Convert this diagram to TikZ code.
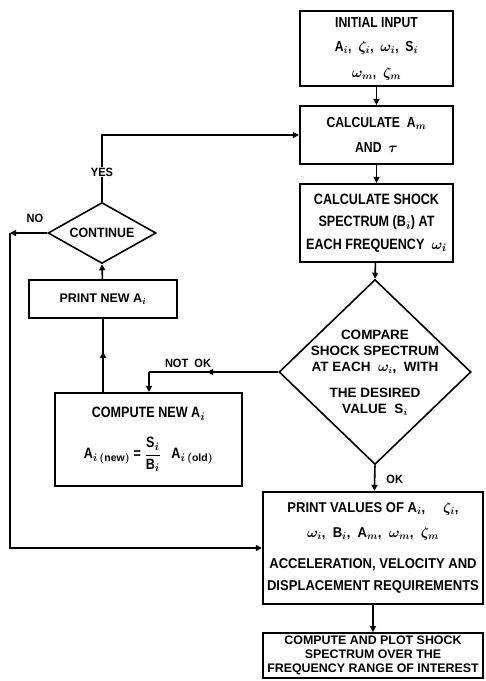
\documentclass[tikz,border=0pt]{standalone}
\usepackage{fontspec}
\setmainfont{Liberation Sans}
\newfontfamily\fA[FakeStretch=0.84]{Liberation Sans}
\newfontfamily\fB[FakeStretch=0.92]{Liberation Sans}
\newfontfamily\fC[FakeStretch=1.0]{Liberation Sans}
\usetikzlibrary{shapes.geometric,arrows.meta,decorations.markings}
\begin{document}
\begin{tikzpicture}[x=1pt,y=-1pt,
  box/.style={draw,line width=2.2pt,inner sep=0pt,align=center},
  dia/.style={draw,diamond,line width=1.6pt,inner sep=0pt},
  txt/.style={align=center,inner sep=0pt},
  lbl/.style={inner sep=1pt,font=\fB\bfseries\boldmath\fontsize{12}{13}\selectfont},
  tip/.style={-{Triangle[length=6pt,width=6pt]}},
  conn/.style={line width=1.6pt,tip},
  midarr/.style={line width=1.6pt,postaction={decorate},decoration={markings,mark=at position 0.55 with {\arrow{Triangle[length=6pt,width=6pt]}}}}
]
\useasboundingbox (0,0) rectangle (486,681);

% right column
\node[box,minimum width=153pt,minimum height=75pt,font=\fA\bfseries\boldmath\fontsize{14.5}{24}\selectfont] (init) at (376.5,48.5)
  {INITIAL INPUT\\ A$_i$, \ $\zeta_i$, \ $\omega_i$, \ S$_i$\\[2pt] $\omega_m$, \ $\zeta_m$};
\node[box,minimum width=153pt,minimum height=58pt,font=\fA\bfseries\boldmath\fontsize{14.5}{25}\selectfont] (calc) at (376.5,135)
  {CALCULATE \ A$_m$\\ AND \ $\tau$};
\node[box,minimum width=153pt,minimum height=78pt,font=\fA\bfseries\boldmath\fontsize{15}{22.5}\selectfont] (spec) at (376.5,223)
  {CALCULATE SHOCK\\ SPECTRUM (B$_i$) AT\\ EACH FREQUENCY \ $\omega_i$};
\node[dia,minimum width=192pt,minimum height=185pt] (cmp) at (375,372) {};
\node[txt,font=\fC\bfseries\boldmath\fontsize{13.5}{16}\selectfont] (cmptext) at (375,373)
  {COMPARE\\ SHOCK SPECTRUM\\ AT EACH \ $\omega_i$, \ WITH\\[10pt] THE DESIRED\\ VALUE \ S$_i$};
\node[box,minimum width=220pt,minimum height=112pt,line width=2.4pt,font=\fB\bfseries\boldmath\fontsize{14.2}{25}\selectfont] (pv) at (373,548)
  {PRINT VALUES OF A$_i$, \quad $\zeta_i$,\\ $\omega_i$, \ B$_i$, \ A$_m$, \ $\omega_m$, \ $\zeta_m$\\[6pt] ACCELERATION, VELOCITY AND\\[-3pt] DISPLACEMENT REQUIREMENTS};
\node[box,minimum width=220pt,minimum height=45pt,line width=1.8pt,font=\fC\bfseries\fontsize{12.4}{14}\selectfont] (plot) at (373,655.5)
  {COMPUTE AND PLOT SHOCK\\ SPECTRUM OVER THE\\ FREQUENCY RANGE OF INTEREST};

% left column
\node[dia,minimum width=108pt,minimum height=61pt] (cont) at (102,233) {};
\node[txt,font=\fB\bfseries\fontsize{13.5}{14}\selectfont] (conttext) at (102,233) {CONTINUE};
\node[box,minimum width=148pt,minimum height=38pt,line width=1.8pt,font=\fC\bfseries\boldmath\fontsize{12.5}{14}\selectfont] (pnew) at (103,299) {PRINT NEW A$_i$};
\node[box,minimum width=187pt,minimum height=93pt,line width=2.2pt,font=\fA\bfseries\boldmath\fontsize{15}{15}\selectfont] (cnew) at (148.5,439.5)
  {COMPUTE NEW A$_i$\\[16pt] A$_{i\,(\mathrm{new})}$ = $\displaystyle\frac{\mbox{S}_i}{\mbox{B}_i}$ \ \ A$_{i\,(\mathrm{old})}$};

\coordinate (yes) at (102,135);
\coordinate (no) at (10,233);
\coordinate (notok) at (149,372);

% connectors
\draw[conn] (init) -- (calc);
\draw[conn] (calc) -- (spec);
\draw[conn] (spec) -- (cmp.north);
\draw[conn] (cmp.south) -- node[lbl,right=10pt,pos=0.55]{OK} (pv);
\draw[conn] (pv) -- (plot);
\draw[midarr] (cmp.west) -- (notok);
\draw[conn] (notok) -- (notok |- cnew.north);
\node[lbl] (notoklbl) at (188,363) {NOT \ OK};
\draw[midarr] (cnew.north -| pnew.south) -- (pnew.south);
\draw[conn] (pnew) -- (cont.south);
\draw[conn] (cont.north) -- (yes) -- (calc.west);
\node[lbl,fill=white] (yeslbl) at (102,172) {YES};
\draw[conn] (cont.west) -- (no);
\node[lbl] (nolbl) at (35,218) {NO};
\draw[conn] (no) -- (no |- pv.west) -- (pv.west);
\end{tikzpicture}
\end{document}
